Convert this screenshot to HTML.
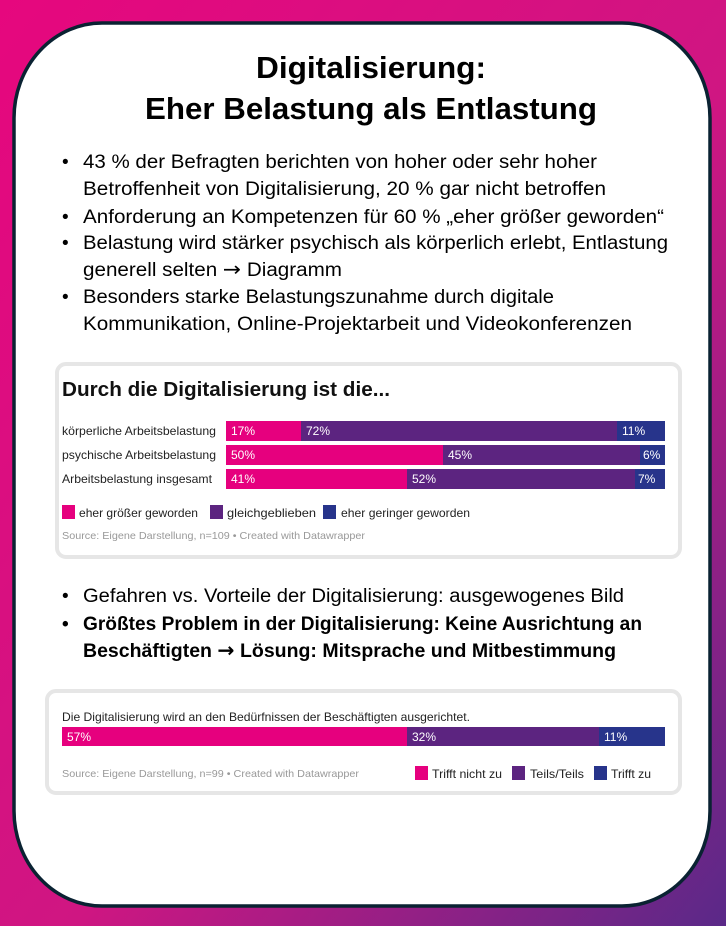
<!DOCTYPE html>
<html><head><meta charset="utf-8"><style>
html,body{margin:0;padding:0;width:726px;height:926px;overflow:hidden}
</style></head><body>
<svg width="726" height="926" viewBox="0 0 726 926" xmlns="http://www.w3.org/2000/svg">
<defs><linearGradient id="bg" x1="0" y1="0" x2="1" y2="1">
<stop offset="0" stop-color="#e6077e"/><stop offset="0.55" stop-color="#cf1682"/><stop offset="1" stop-color="#5a2988"/></linearGradient></defs>
<rect width="726" height="926" fill="url(#bg)"/>
<rect x="14" y="23" width="696" height="883" rx="88" ry="95" fill="#fff" stroke="#0a2232" stroke-width="3.5"/>
<g font-family="Liberation Sans, sans-serif" font-weight="bold" fill="#000" font-size="31">
<text x="256" y="78" textLength="230" lengthAdjust="spacingAndGlyphs">Digitalisierung:</text>
<text x="145" y="119" textLength="452" lengthAdjust="spacingAndGlyphs">Eher Belastung als Entlastung</text>
</g>
<g font-family="Liberation Sans, sans-serif" fill="#000" font-size="19">
<text x="62" y="168">•</text><text x="83" y="168" textLength="514" lengthAdjust="spacingAndGlyphs">43 % der Befragten berichten von hoher oder sehr hoher</text>
<text x="83" y="195" textLength="523" lengthAdjust="spacingAndGlyphs">Betroffenheit von Digitalisierung, 20 % gar nicht betroffen</text>
<text x="62" y="223">•</text><text x="83" y="223" textLength="581" lengthAdjust="spacingAndGlyphs">Anforderung an Kompetenzen für 60 % „eher größer geworden“</text>
<text x="62" y="249">•</text><text x="83" y="249" textLength="585" lengthAdjust="spacingAndGlyphs">Belastung wird stärker psychisch als körperlich erlebt, Entlastung</text>
<text x="83" y="276" textLength="259" lengthAdjust="spacingAndGlyphs">generell selten <tspan font-family="DejaVu Sans, sans-serif" font-size="20">→</tspan> Diagramm</text>
<text x="62" y="303">•</text><text x="83" y="303" textLength="471" lengthAdjust="spacingAndGlyphs">Besonders starke Belastungszunahme durch digitale</text>
<text x="83" y="330" textLength="549" lengthAdjust="spacingAndGlyphs">Kommunikation, Online-Projektarbeit und Videokonferenzen</text>
<text x="62" y="602">•</text><text x="83" y="602" textLength="541" lengthAdjust="spacingAndGlyphs">Gefahren vs. Vorteile der Digitalisierung: ausgewogenes Bild</text>
<text x="62" y="630" font-weight="bold">•</text><text x="83" y="630" font-weight="bold" textLength="559" lengthAdjust="spacingAndGlyphs">Größtes Problem in der Digitalisierung: Keine Ausrichtung an</text>
<text x="83" y="657" font-weight="bold" textLength="533" lengthAdjust="spacingAndGlyphs">Beschäftigten <tspan font-family="DejaVu Sans, sans-serif" font-size="20">→</tspan> Lösung: Mitsprache und Mitbestimmung</text>
</g>
<!-- chart 1 -->
<rect x="57" y="364" width="623" height="193" rx="9" fill="#fff" stroke="#e6e6e6" stroke-width="4"/>
<g font-family="Liberation Sans, sans-serif">
<text x="62" y="396" font-size="20" font-weight="bold" textLength="328" lengthAdjust="spacingAndGlyphs" fill="#111">Durch die Digitalisierung ist die...</text>
<g font-size="12" fill="#222">
<text x="62" y="435" textLength="154" lengthAdjust="spacingAndGlyphs">körperliche Arbeitsbelastung</text>
<text x="62" y="459" textLength="154" lengthAdjust="spacingAndGlyphs">psychische Arbeitsbelastung</text>
<text x="62" y="483" textLength="150" lengthAdjust="spacingAndGlyphs">Arbeitsbelastung insgesamt</text>
</g>
<rect x="226" y="421" width="75" height="20" fill="#e6007e"/><rect x="301" y="421" width="316" height="20" fill="#5c2480"/><rect x="617" y="421" width="48" height="20" fill="#27348b"/>
<rect x="226" y="445" width="217" height="20" fill="#e6007e"/><rect x="443" y="445" width="197" height="20" fill="#5c2480"/><rect x="640" y="445" width="25" height="20" fill="#27348b"/>
<rect x="226" y="469" width="181" height="20" fill="#e6007e"/><rect x="407" y="469" width="228" height="20" fill="#5c2480"/><rect x="635" y="469" width="30" height="20" fill="#27348b"/>
<g font-size="12" fill="#fff">
<text x="231" y="435">17%</text><text x="306" y="435">72%</text><text x="622" y="435">11%</text>
<text x="231" y="459">50%</text><text x="448" y="459">45%</text><text x="643" y="459">6%</text>
<text x="231" y="483">41%</text><text x="412" y="483">52%</text><text x="638" y="483">7%</text>
</g>
<rect x="62" y="505" width="13" height="14" fill="#e6007e"/><rect x="210" y="505" width="13" height="14" fill="#5c2480"/><rect x="323" y="505" width="13" height="14" fill="#27348b"/>
<g font-size="12" fill="#222">
<text x="79" y="517" textLength="119" lengthAdjust="spacingAndGlyphs">eher größer geworden</text>
<text x="227" y="517" textLength="89" lengthAdjust="spacingAndGlyphs">gleichgeblieben</text>
<text x="341" y="517" textLength="129" lengthAdjust="spacingAndGlyphs">eher geringer geworden</text>
</g>
<text x="62" y="539" font-size="10.5" fill="#999" textLength="303" lengthAdjust="spacingAndGlyphs">Source: Eigene Darstellung, n=109 • Created with Datawrapper</text>
</g>
<!-- chart 2 -->
<rect x="47" y="691" width="633" height="102" rx="9" fill="#fff" stroke="#e6e6e6" stroke-width="4"/>
<g font-family="Liberation Sans, sans-serif">
<text x="62" y="721" font-size="12" fill="#222" textLength="408" lengthAdjust="spacingAndGlyphs">Die Digitalisierung wird an den Bedürfnissen der Beschäftigten ausgerichtet.</text>
<rect x="62" y="727" width="345" height="19" fill="#e6007e"/><rect x="407" y="727" width="192" height="19" fill="#5c2480"/><rect x="599" y="727" width="66" height="19" fill="#27348b"/>
<g font-size="12" fill="#fff"><text x="67" y="741">57%</text><text x="412" y="741">32%</text><text x="604" y="741">11%</text></g>
<text x="62" y="777" font-size="10.5" fill="#999" textLength="297" lengthAdjust="spacingAndGlyphs">Source: Eigene Darstellung, n=99 • Created with Datawrapper</text>
<rect x="415" y="766" width="13" height="14" fill="#e6007e"/><rect x="512" y="766" width="13" height="14" fill="#5c2480"/><rect x="594" y="766" width="13" height="14" fill="#27348b"/>
<g font-size="12" fill="#222">
<text x="432" y="778" textLength="70" lengthAdjust="spacingAndGlyphs">Trifft nicht zu</text>
<text x="530" y="778" textLength="54" lengthAdjust="spacingAndGlyphs">Teils/Teils</text>
<text x="611" y="778" textLength="40" lengthAdjust="spacingAndGlyphs">Trifft zu</text>
</g>
</g>
</svg>
</body></html>
